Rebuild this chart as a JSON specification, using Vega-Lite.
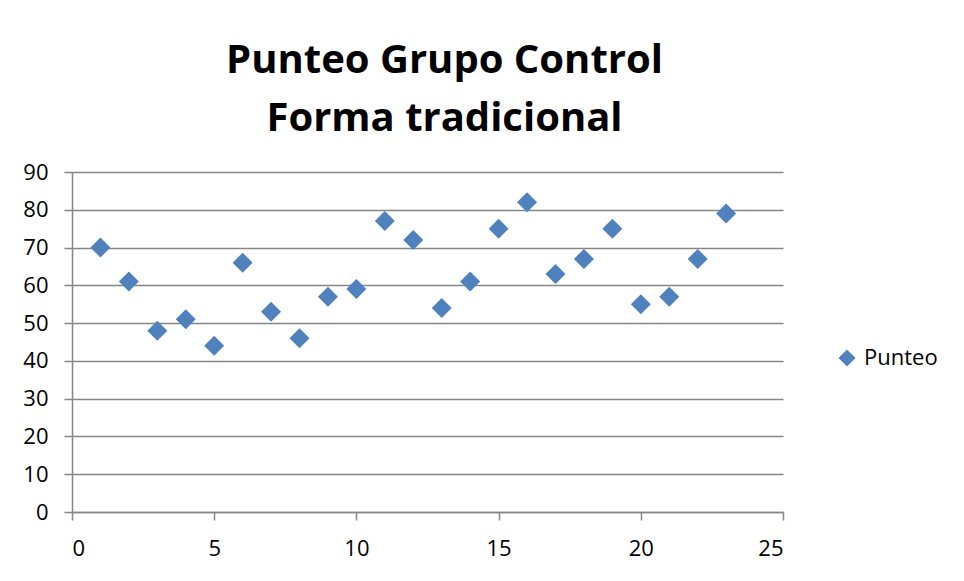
{
  "$schema": "https://vega.github.io/schema/vega-lite/v6.json",
  "autosize": {"type": "none"},
  "width": 711,
  "height": 340,
  "padding": {"left": 72, "top": 172, "right": 181, "bottom": 69},
  "background": "white",
  "title": {
    "text": ["Punteo Grupo Control", "Forma tradicional"],
    "font": "Open Sans",
    "fontSize": 40,
    "fontWeight": "bold",
    "color": "black",
    "lineHeight": 58,
    "anchor": "middle",
    "dx": 17,
    "offset": 22
  },
  "data": {
    "values": [
      {"n": 1, "punteo": 70, "serie": "Punteo"},
      {"n": 2, "punteo": 61, "serie": "Punteo"},
      {"n": 3, "punteo": 48, "serie": "Punteo"},
      {"n": 4, "punteo": 51, "serie": "Punteo"},
      {"n": 5, "punteo": 44, "serie": "Punteo"},
      {"n": 6, "punteo": 66, "serie": "Punteo"},
      {"n": 7, "punteo": 53, "serie": "Punteo"},
      {"n": 8, "punteo": 46, "serie": "Punteo"},
      {"n": 9, "punteo": 57, "serie": "Punteo"},
      {"n": 10, "punteo": 59, "serie": "Punteo"},
      {"n": 11, "punteo": 77, "serie": "Punteo"},
      {"n": 12, "punteo": 72, "serie": "Punteo"},
      {"n": 13, "punteo": 54, "serie": "Punteo"},
      {"n": 14, "punteo": 61, "serie": "Punteo"},
      {"n": 15, "punteo": 75, "serie": "Punteo"},
      {"n": 16, "punteo": 82, "serie": "Punteo"},
      {"n": 17, "punteo": 63, "serie": "Punteo"},
      {"n": 18, "punteo": 67, "serie": "Punteo"},
      {"n": 19, "punteo": 75, "serie": "Punteo"},
      {"n": 20, "punteo": 55, "serie": "Punteo"},
      {"n": 21, "punteo": 57, "serie": "Punteo"},
      {"n": 22, "punteo": 67, "serie": "Punteo"},
      {"n": 23, "punteo": 79, "serie": "Punteo"}
    ]
  },
  "mark": {"type": "point", "shape": "diamond", "filled": true, "size": 400, "opacity": 1},
  "encoding": {
    "x": {
      "field": "n",
      "type": "quantitative",
      "scale": {"domain": [0, 25], "nice": false, "zero": true},
      "axis": {
        "title": null,
        "values": [0, 5, 10, 15, 20, 25],
        "grid": false,
        "tickSize": 8,
        "labelPadding": 18
      }
    },
    "y": {
      "field": "punteo",
      "type": "quantitative",
      "scale": {"domain": [0, 90], "nice": false},
      "axis": {
        "title": null,
        "values": [0, 10, 20, 30, 40, 50, 60, 70, 80, 90],
        "grid": true,
        "tickSize": 8,
        "labelPadding": 16
      }
    },
    "color": {
      "field": "serie",
      "type": "nominal",
      "scale": {"range": ["#4F81BD"]},
      "legend": {
        "title": null,
        "orient": "none",
        "legendX": 764,
        "legendY": 175,
        "symbolType": "diamond",
        "symbolSize": 290,
        "symbolOpacity": 1,
        "labelFont": "Open Sans",
        "labelFontSize": 22,
        "labelColor": "black",
        "labelOffset": 6,
        "padding": 0
      }
    }
  },
  "config": {
    "view": {"stroke": null},
    "axis": {
      "labelFont": "Open Sans",
      "labelFontSize": 22,
      "labelColor": "black",
      "domainColor": "#868686",
      "domainWidth": 1.5,
      "tickColor": "#868686",
      "tickWidth": 1.5,
      "gridColor": "#868686",
      "gridWidth": 1.5,
      "gridOpacity": 1
    }
  }
}
